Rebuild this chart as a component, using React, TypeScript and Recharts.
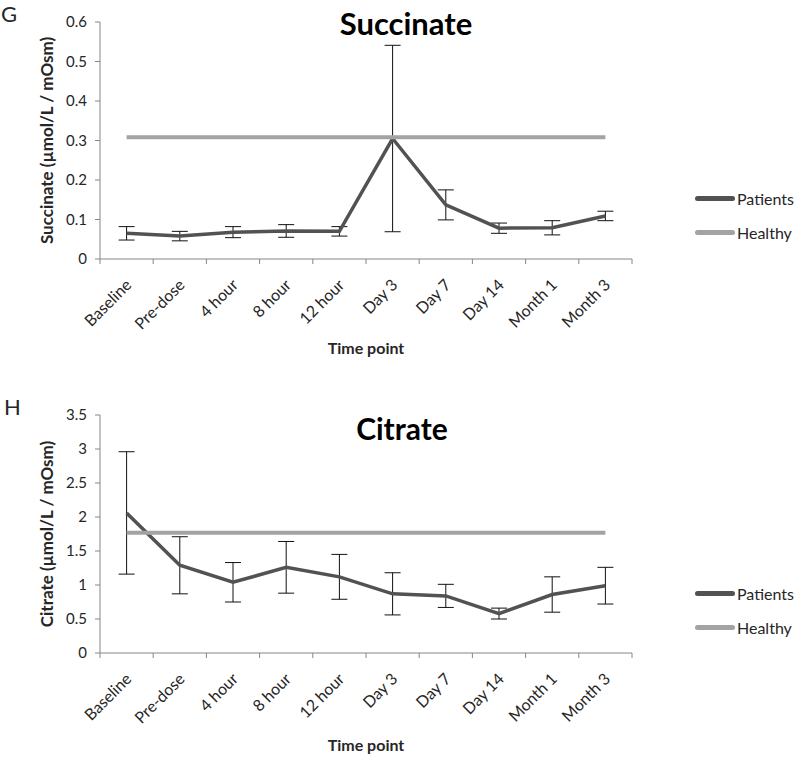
import React from 'react';
import { LineChart, Line, XAxis, YAxis, ErrorBar, Legend, Label } from 'recharts';

const categories = ['Baseline', 'Pre-dose', '4 hour', '8 hour', '12 hour', 'Day 3', 'Day 7', 'Day 14', 'Month 1', 'Month 3'];

const succinatePatients = [0.065, 0.058, 0.068, 0.071, 0.070, 0.305, 0.137, 0.078, 0.079, 0.109];
const succinateErr = [0.017, 0.012, 0.014, 0.016, 0.012, 0.236, 0.038, 0.013, 0.018, 0.012];
const succinateHealthy = 0.308;
const succinateTicks = [0, 0.1, 0.2, 0.3, 0.4, 0.5, 0.6];

const citratePatients = [2.06, 1.29, 1.04, 1.26, 1.12, 0.87, 0.84, 0.58, 0.86, 0.99];
const citrateErr = [0.90, 0.42, 0.29, 0.38, 0.33, 0.31, 0.17, 0.08, 0.26, 0.27];
const citrateHealthy = 1.77;
const citrateTicks = [0, 0.5, 1, 1.5, 2, 2.5, 3, 3.5];

const seriesOrder = ['Patients', 'Healthy'];

const FONT = 'Lato, "Open Sans", sans-serif';
const AXIS = '#868686';
const TEXT = '#262626';
const PAT = '#525252';
const HEAL = '#a3a3a3';

function buildData(p: number[], e: number[], h: number) {
  return categories.map((c, i) => ({ t: c, patients: p[i], err: e[i], healthy: h }));
}

const XTick = (props: any) => {
  const { x, y, payload, index } = props;
  const off = payload && payload.offset ? payload.offset : 26.6;
  const ax = x + 6;
  const ay = y + 27;
  return (
    <g>
      <line x1={x - off} x2={x - off} y1={y} y2={y + 5} stroke={AXIS} />
      {index === categories.length - 1 && <line x1={x + off} x2={x + off} y1={y} y2={y + 5} stroke={AXIS} />}
      <text
        x={ax}
        y={ay}
        textAnchor="end"
        fontSize={16}
        fontFamily={FONT}
        fill={TEXT}
        transform={`rotate(-45, ${ax}, ${ay})`}
      >
        {payload.value}
      </text>
    </g>
  );
};

const renderLegend = (props: any) => {
  const payload = [...(props.payload || [])].sort(
    (a: any, b: any) => seriesOrder.indexOf(a.value) - seriesOrder.indexOf(b.value)
  );
  return (
    <div style={{ fontFamily: FONT, fontSize: 16, color: TEXT }}>
      {payload.map((p: any, i: number) => (
        <div key={i} style={{ display: 'flex', alignItems: 'center', height: 34 }}>
          <div style={{ width: 40, height: 5, borderRadius: 3, background: p.color, marginRight: 2 }} />
          <span>{p.value}</span>
        </div>
      ))}
    </div>
  );
};

const YLabel = (text: string) => (props: any) => {
  const vb = props.viewBox || {};
  const cx = 46;
  const cy = vb.y + vb.height / 2;
  return (
    <text
      x={cx}
      y={cy}
      textAnchor="middle"
      dominantBaseline="central"
      fontSize={17}
      fontWeight="bold"
      fontFamily={FONT}
      fill={TEXT}
      transform={`rotate(-90, ${cx}, ${cy})`}
    >
      {text}
    </text>
  );
};

type PanelProps = {
  data: any[];
  ticks: number[];
  domain: [number, number];
  yLabel: string;
  marginTop: number;
  height: number;
  xAxisHeight: number;
  timeOffset: number;
  legendTop: number;
};

function Panel({ data, ticks, domain, yLabel, marginTop, height, xAxisHeight, timeOffset, legendTop }: PanelProps) {
  return (
    <LineChart width={800} height={height} data={data} margin={{ top: marginTop, right: 168, left: 60, bottom: 0 }}>
      <XAxis
        dataKey="t"
        scale="band"
        height={xAxisHeight}
        interval={0}
        tickSize={0}
        tickMargin={0}
        tick={<XTick />}
        stroke={AXIS}
        axisLine={{ stroke: AXIS }}
      >
        <Label
          value="Time point"
          position="insideBottom"
          offset={timeOffset}
          style={{ fontFamily: FONT, fontSize: 16, fontWeight: 'bold', fill: TEXT }}
        />
      </XAxis>
      <YAxis
        width={40}
        domain={domain}
        ticks={ticks}
        interval={0}
        tickSize={5}
        tickMargin={8}
        stroke={AXIS}
        tick={{ fontFamily: FONT, fontSize: 15, fill: TEXT }}
        tickFormatter={(v: number) => String(v)}
        allowDataOverflow
      >
        <Label content={YLabel(yLabel)} />
      </YAxis>
      <Line
        type="linear"
        dataKey="patients"
        name="Patients"
        stroke={PAT}
        strokeWidth={3.5}
        dot={false}
        activeDot={false}
        isAnimationActive={false}
      >
        <ErrorBar dataKey="err" width={8} stroke="#111" strokeWidth={1} direction="y" />
      </Line>
      <Line
        type="linear"
        dataKey="healthy"
        name="Healthy"
        stroke={HEAL}
        strokeWidth={4}
        dot={false}
        activeDot={false}
        isAnimationActive={false}
      />
      <Legend
        layout="horizontal"
        verticalAlign="middle"
        align="center"
        content={renderLegend}
        wrapperStyle={{ left: 695, top: legendTop, width: 110, right: 'auto', bottom: 'auto' }}
      />
    </LineChart>
  );
}

export default function App() {
  const sData = buildData(succinatePatients, succinateErr, succinateHealthy);
  const cData = buildData(citratePatients, citrateErr, citrateHealthy);
  return (
    <div style={{ position: 'absolute', left: 0, top: 0, width: 800, height: 757, background: '#fff', fontFamily: FONT }}>
      <div style={{ position: 'absolute', left: 0, top: 0, width: 800, height: 370 }}>
        <Panel
          data={sData}
          ticks={succinateTicks}
          domain={[0, 0.6]}
          yLabel="Succinate (µmol/L / mOsm)"
          marginTop={22}
          height={370}
          xAxisHeight={111}
          timeOffset={16}
          legendTop={181}
        />
      </div>
      <div style={{ position: 'absolute', left: 0, top: 370, width: 800, height: 387 }}>
        <Panel
          data={cData}
          ticks={citrateTicks}
          domain={[0, 3.5]}
          yLabel="Citrate (µmol/L / mOsm)"
          marginTop={45}
          height={387}
          xAxisHeight={104}
          timeOffset={6}
          legendTop={206}
        />
      </div>
      <div style={{ position: 'absolute', left: 1, top: 0, fontSize: 22, lineHeight: '28px', color: TEXT, fontFamily: FONT }}>G</div>
      <div style={{ position: 'absolute', left: 4, top: 393, fontSize: 22, lineHeight: '28px', color: TEXT, fontFamily: FONT }}>H</div>
      <div style={{ position: 'absolute', left: 406, top: 4, transform: 'translateX(-50%)', fontSize: 31, lineHeight: '38px', fontWeight: 'bold', color: '#000', fontFamily: FONT, whiteSpace: 'nowrap' }}>
        Succinate
      </div>
      <div style={{ position: 'absolute', left: 402, top: 409, transform: 'translateX(-50%)', fontSize: 30, lineHeight: '38px', fontWeight: 'bold', color: '#000', fontFamily: FONT, whiteSpace: 'nowrap' }}>
        Citrate
      </div>
    </div>
  );
}
